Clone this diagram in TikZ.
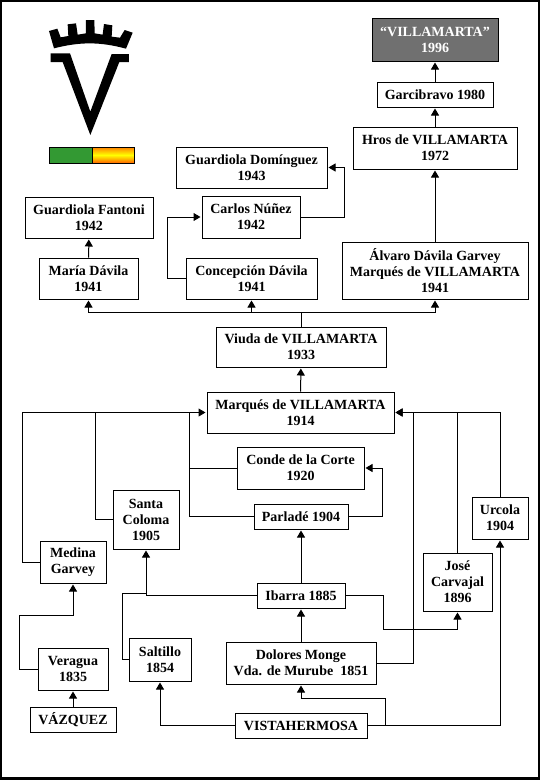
\documentclass[tikz,border=0pt]{standalone}
\usepackage{fontspec}
\setmainfont{Liberation Serif}
\usetikzlibrary{arrows.meta}
\definecolor{escudogreen}{HTML}{339933}
\definecolor{boxgrey}{HTML}{707070}

\begin{document}
\begin{tikzpicture}[
  x=1pt, y=-1pt,
  breed/.style 2 args={draw, fill=white, line width=1pt, inner sep=0pt, align=center,
    minimum width=#1pt, minimum height=#2pt, font=\fontsize{14}{16}\selectfont\bfseries},
  arrow/.style={-{Triangle[length=7pt, width=8pt]}, line width=1pt, shorten >=1pt},
  link/.style={line width=1pt},
]
\useasboundingbox (0,0) rectangle (540,780);
\fill[black] (0,0) rectangle (540,780);
\fill[white] (2,2) rectangle (538,777);

% escudo
\begin{scope}[scale=1/3]
\fill (162,145) -- (147,93) -- (172,86) -- (182,112) -- (205,108) -- (203,73) -- (228,70)
  -- (233,104) -- (258,100) -- (258,60) -- (283,60) -- (284,100) -- (308,104) -- (312,72)
  -- (337,76) -- (335,110) -- (360,113) -- (374,90) -- (398,98) -- (378,146)
  .. controls (300,125) and (240,125) .. (162,145) -- cycle;
\fill (152,160) -- (210,160) -- (271,335) -- (335,162) -- (387,162) -- (387,186) -- (358,186)
  -- (271,405) -- (188,186) -- (152,186) -- cycle;
\end{scope}

% divisa
\fill[escudogreen] (49,147) rectangle (92,163);
\shade[top color=orange, bottom color=orange!80!red, middle color=yellow] (92,147) rectangle (134,163);
\draw[line width=1pt] (49,147) rectangle (134,163) (92,147) -- (92,163);

\node[breed={126}{43}, fill=boxgrey, text=white] (villamarta) at (435,39.5) {“VILLAMARTA”\\1996};
\node[breed={116}{25}] (garcibravo) at (435,94.5) {Garcibravo 1980};
\node[breed={164}{42}] (hros) at (435,148) {Hros de VILLAMARTA\\1972};
\node[breed={151}{41}] (dominguez) at (251.5,167.5) {Guardiola Domínguez\\1943};
\node[breed={98}{42}] (nunez) at (251,217) {Carlos Núñez\\1942};
\node[breed={128}{41}] (fantoni) at (89,217.5) {Guardiola Fantoni\\1942};
\node[breed={99}{41}] (maria) at (88.5,278.5) {María Dávila\\1941};
\node[breed={131}{41}] (concepcion) at (251.5,278.5) {Concepción Dávila\\1941};
\node[breed={186}{57}] (alvaro) at (435,270.5) {Álvaro Dávila Garvey\\Marqués de VILLAMARTA\\1941};
\node[breed={170}{40}] (viuda) at (301,347) {Viuda de VILLAMARTA\\1933};
\node[breed={187}{41}] (marques) at (300.5,412.5) {Marqués de VILLAMARTA\\1914};
\node[breed={127}{42}] (conde) at (300.5,468) {Conde de la Corte\\1920};
\node[breed={94}{25}] (parlade) at (301,516.5) {Parladé 1904};
\node[breed={66}{59}] (santa) at (146,519.5) {Santa\\Coloma\\1905};
\node[breed={66}{42}] (medina) at (73,562) {Medina\\Garvey};
\node[breed={88}{25}] (ibarra) at (301,595.5) {Ibarra 1885};
\node[breed={69}{58}] (jose) at (457.5,582) {José\\Carvajal\\1896};
\node[breed={56}{42}] (urcola) at (500,518) {Urcola\\1904};
\node[breed={70}{42}] (veragua) at (73,669) {Veragua\\1835};
\node[breed={62}{43}] (saltillo) at (160,659.5) {Saltillo\\1854};
\node[breed={150}{42}] (dolores) at (301,663) {Dolores Monge\\Vda. de Murube~~1851};
\node[breed={86}{25}] (vazquez) at (73,719.5) {VÁZQUEZ};
\node[breed={132}{25}] (vista) at (301,725.5) {VISTAHERMOSA};

\coordinate (viudaup) at (301,312);
\coordinate (nunezleft) at (167,217);
\coordinate (nunezright) at (344,217);
\coordinate (westline) at (189,412.5);
\coordinate (eastline) at (413,412.5);
\coordinate (condeturn) at (382,468);
\coordinate (ibarraturn) at (383,595.5);
\coordinate (ibarralow) at (383,629);
\coordinate (saltilloturn) at (122,593);
\coordinate (veraguaturn) at (19,615);
\coordinate (vistaturn) at (385,698);

\draw[arrow] (garcibravo) -- (villamarta);
\draw[arrow] (hros) -- (garcibravo);
\draw[arrow] (alvaro) -- (hros);
\draw[arrow] (nunez.east) -- (nunezright) |- (dominguez.east);
\draw[arrow] (concepcion.west) -| (nunezleft) -- (nunez.west);
\draw[arrow] (maria) -- (fantoni);
\draw[link] (viuda.north) -- (viudaup);
\draw[arrow] (viudaup) -| (maria.south);
\draw[arrow] (viudaup) -| (concepcion.south);
\draw[arrow] (viudaup) -| (alvaro.south);
\draw[arrow] (marques) -- (viuda);

\draw[arrow] (medina.west) -| (22,412.5) -- (marques.west);
\draw[link] (santa.west) -| (95,412.5);
\draw[link] (parlade.west) -| (westline);
\draw[link] (conde.west) -- (conde.west -| westline);
\draw[arrow] (parlade.east) -| (condeturn) -- (conde.east);
\draw[arrow] (ibarra) -- (parlade);
\draw[arrow] (ibarra.west) -| (santa.south);
\draw[link] (saltillo.west) -| (saltilloturn) -- (saltilloturn -| santa.south);
\draw[arrow] (ibarra.east) -- (ibarraturn) -- (ibarralow) -| (jose.south);
\draw[arrow] (dolores) -- (ibarra);
\draw[arrow] (dolores.east) -| (eastline) -- (marques.east);
\draw[link] (jose.north) -- (jose.north |- marques.east);
\draw[arrow] (urcola.north) |- (marques.east);
\draw[arrow] (veragua.west) -| (veraguaturn) -| (medina.south);
\draw[arrow] (vazquez) -- (veragua);
\draw[arrow] (vista.west) -| (saltillo.south);
\draw[arrow] (vista.east) -| (urcola.south);
\draw[arrow] (vista.east -| vistaturn) -- (vistaturn) -| (dolores.south);
\end{tikzpicture}
\end{document}
